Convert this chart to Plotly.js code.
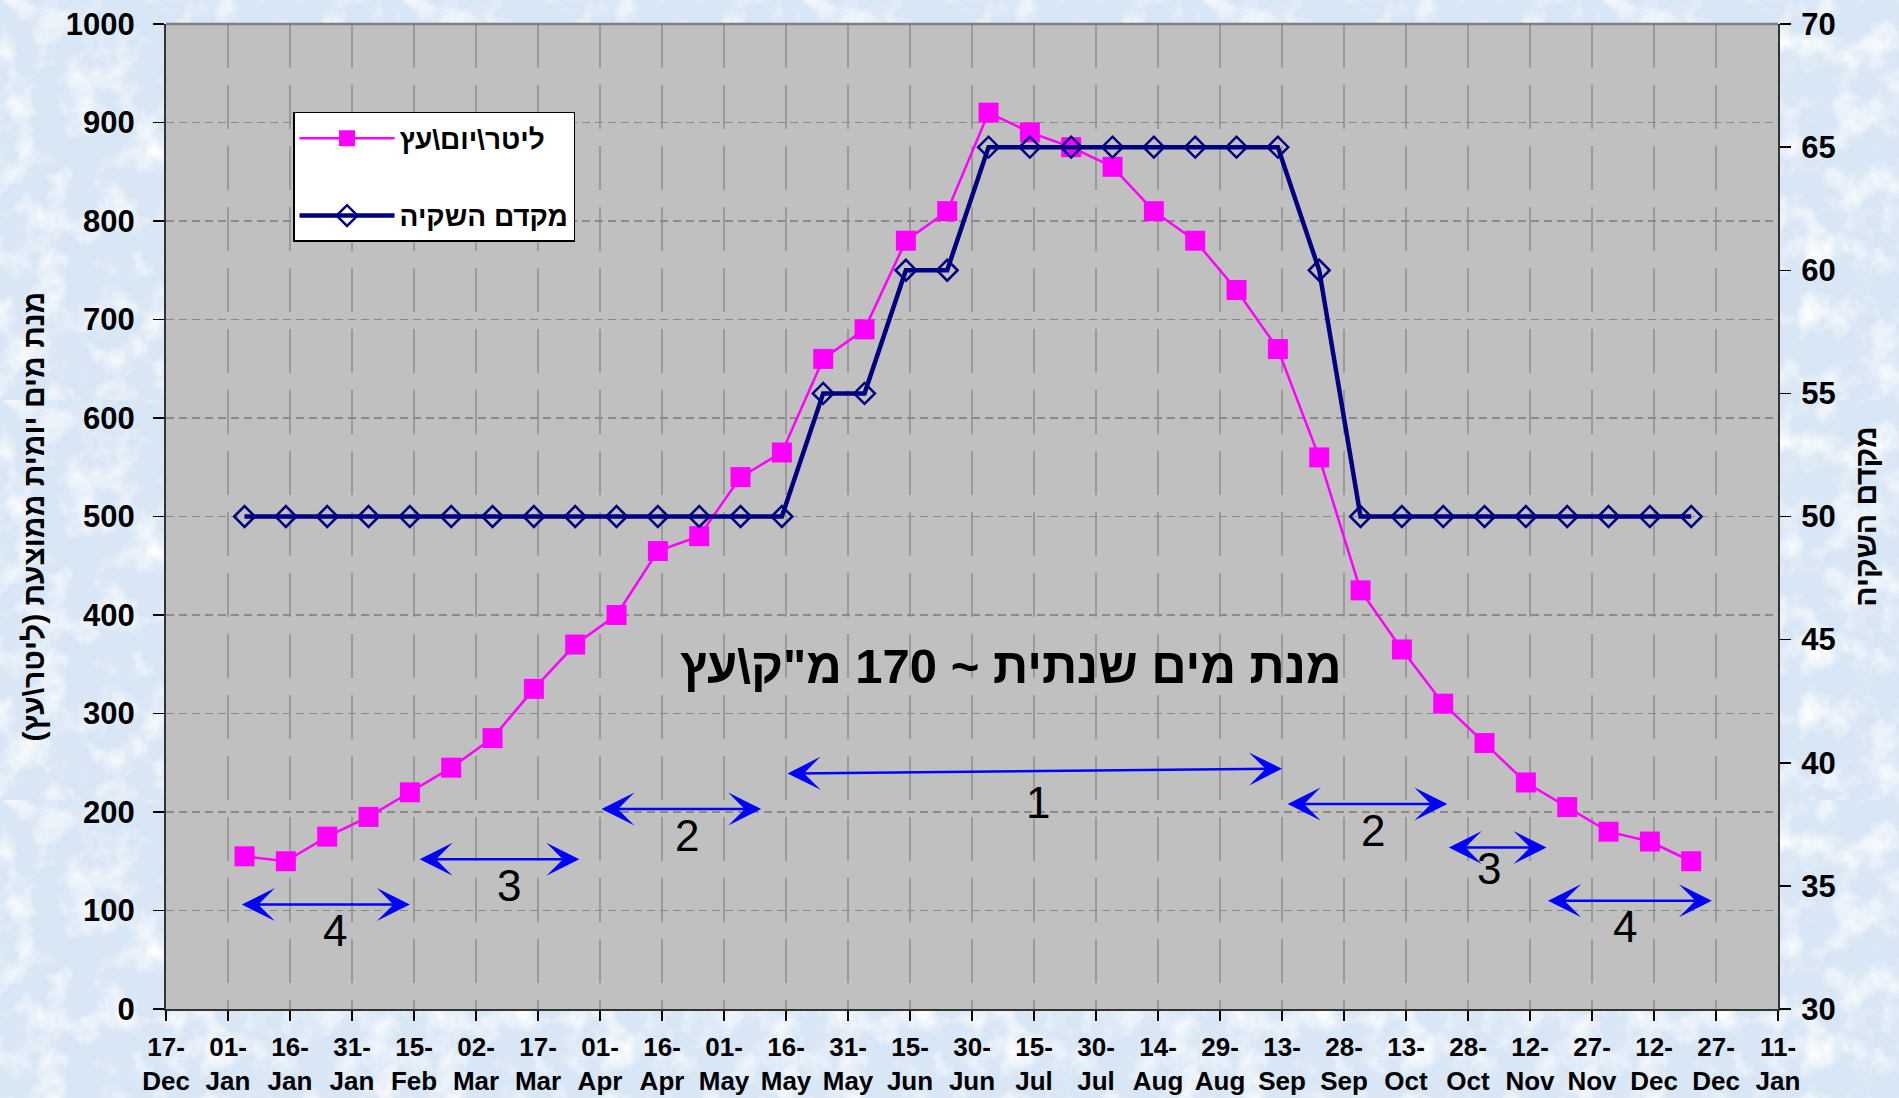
<!DOCTYPE html>
<html>
<head>
<meta charset="utf-8">
<script src="https://cdn.plot.ly/plotly-3.0.1.min.js"></script>
<style>
html, body { margin:0; padding:0; }
body {
  width:1899px; height:1098px; overflow:hidden;
  background-color:#d9e6f5;
  background-image:url("data:image/svg+xml;utf8,<svg xmlns='http://www.w3.org/2000/svg' width='400' height='400'><filter id='n'><feTurbulence type='fractalNoise' baseFrequency='0.03' numOctaves='4' seed='7'/><feColorMatrix values='0 0 0 0 1  0 0 0 0 1  0 0 0 0 1  0 0 0 2.2 -1.0'/></filter><rect width='400' height='400' filter='url(%23n)'/></svg>");
}
#chart { width:1899px; height:1098px; }
</style>
</head>
<body>
<div id="chart"></div>
<script>
// ---- data ----
const pointDates = ['2007-01-05','2007-01-15','2007-01-25','2007-02-04','2007-02-14','2007-02-24',
  '2007-03-06','2007-03-16','2007-03-26','2007-04-05','2007-04-15','2007-04-25',
  '2007-05-05','2007-05-15','2007-05-25','2007-06-04','2007-06-14','2007-06-24',
  '2007-07-04','2007-07-14','2007-07-24','2007-08-03','2007-08-13','2007-08-23',
  '2007-09-02','2007-09-12','2007-09-22','2007-10-02','2007-10-12','2007-10-22',
  '2007-11-01','2007-11-11','2007-11-21','2007-12-01','2007-12-11','2007-12-21'];
const litersPerTreeDay = [155,150,175,195,220,245,275,325,370,400,465,480,
  540,565,660,690,780,810,910,890,875,855,810,780,
  730,670,560,425,365,310,270,230,205,180,170,150];
const irrigationCoef = [50,50,50,50,50,50,50,50,50,50,50,50,
  50,50,55,55,60,60,65,65,65,65,65,65,
  65,65,60,50,50,50,50,50,50,50,50,50];
const seriesNames = ['ליטר\\יום\\עץ', 'מקדם השקיה'];

const tickDates = ['2006-12-17','2007-01-01','2007-01-16','2007-01-31','2007-02-15','2007-03-02',
  '2007-03-17','2007-04-01','2007-04-16','2007-05-01','2007-05-16','2007-05-31','2007-06-15',
  '2007-06-30','2007-07-15','2007-07-30','2007-08-14','2007-08-29','2007-09-13','2007-09-28',
  '2007-10-13','2007-10-28','2007-11-12','2007-11-27','2007-12-12','2007-12-27','2008-01-11'];
const tickLabels = ['17-<br>Dec','01-<br>Jan','16-<br>Jan','31-<br>Jan','15-<br>Feb','02-<br>Mar',
  '17-<br>Mar','01-<br>Apr','16-<br>Apr','01-<br>May','16-<br>May','31-<br>May','15-<br>Jun',
  '30-<br>Jun','15-<br>Jul','30-<br>Jul','14-<br>Aug','29-<br>Aug','13-<br>Sep','28-<br>Sep',
  '13-<br>Oct','28-<br>Oct','12-<br>Nov','27-<br>Nov','12-<br>Dec','27-<br>Dec','11-<br>Jan'];

// irrigation phases (double arrows)
const phaseStart = ['2007-01-04','2007-02-16','2007-04-01','2007-05-16','2007-09-14','2007-10-23','2007-11-16'];
const phaseEnd   = ['2007-02-14','2007-03-27','2007-05-10','2007-09-13','2007-10-23','2007-11-16','2007-12-26'];
const phaseLevelStart = [106,152,203,239,208,164,110];
const phaseLevelEnd   = [106,152,203,244,208,164,110];
const phaseLabel = ['4','3','2','1','2','3','4'];
const phaseLabelDate = ['2007-01-27','2007-03-10','2007-04-22','2007-07-16','2007-10-05','2007-11-02','2007-12-05'];
const phaseLabelLevel = [80,125,176,210,181,143,84];

const annualNote = 'מנת מים שנתית ~ 170 מ"ק\\עץ';
const yTitle = 'מנת מים יומית ממוצעת (ליטר\\עץ)';
const y2Title = 'מקדם השקיה';

// ---- chart ----
const FONT = 'Liberation Sans, Arial, DejaVu Sans, sans-serif';

const traces = [
  {
    x: pointDates, y: litersPerTreeDay, name: seriesNames[0], type: 'scatter',
    mode: 'lines+markers', yaxis: 'y', legendgroup: 'a',
    line: {color: '#ff00ff', width: 2.5},
    marker: {symbol: 'square', size: 20, color: '#ff00ff'}
  },
  {
    x: pointDates, y: irrigationCoef, name: seriesNames[1], type: 'scatter',
    mode: 'lines+markers', yaxis: 'y2', legendgroup: 'b',
    line: {color: '#000080', width: 4.5},
    marker: {symbol: 'diamond-open', size: 16, color: '#000080', line: {color: '#000080', width: 2.5}}
  }
];

const annotations = [];
for (let i = 0; i < phaseStart.length; i++) {
  annotations.push({
    xref: 'x', yref: 'y', axref: 'x', ayref: 'y',
    x: phaseEnd[i], y: phaseLevelEnd[i], ax: phaseStart[i], ay: phaseLevelStart[i],
    text: '', showarrow: true, arrowside: 'end+start',
    arrowhead: 3, startarrowhead: 3, arrowsize: 2.2, startarrowsize: 2.2,
    arrowwidth: 2.5, arrowcolor: '#0000ff', standoff: 0, startstandoff: 0
  });
  annotations.push({
    xref: 'x', yref: 'y', x: phaseLabelDate[i], y: phaseLabelLevel[i],
    text: phaseLabel[i], showarrow: false,
    font: {family: FONT, size: 44, color: '#000'}
  });
}
annotations.push({
  xref: 'paper', yref: 'paper', x: 0.524, y: 0.348, text: annualNote, showarrow: false,
  font: {family: FONT, size: 49, color: '#000', weight: 'bold'}
});

const layout = {
  width: 1899, height: 1098,
  margin: {l: 166, r: 121, t: 24, b: 89},
  paper_bgcolor: 'rgba(0,0,0,0)',
  plot_bgcolor: '#c0c0c0',
  font: {family: FONT, color: '#000'},
  showlegend: true,
  legend: {
    x: 0.0788, y: 0.9107, xanchor: 'left', yanchor: 'top',
    bgcolor: '#ffffff', bordercolor: '#000000', borderwidth: 1.5,
    font: {family: FONT, size: 28, color: '#000', weight: 'bold'},
    tracegroupgap: 38, itemwidth: 95
  },
  xaxis: {
    type: 'date', range: ['2006-12-17', '2008-01-11'],
    tickmode: 'array', tickvals: tickDates, ticktext: tickLabels,
    ticks: 'outside', ticklen: 10, tickwidth: 1.5, tickcolor: '#000',
    showline: true, linecolor: '#333', linewidth: 2,
    showgrid: true, gridcolor: '#9a9a9a', gridwidth: 1.3, griddash: '44px,17px',
    tickfont: {family: FONT, size: 26, color: '#000', weight: 'bold'},
    ticklabelstandoff: 4, zeroline: false
  },
  yaxis: {
    range: [0, 1000], dtick: 100, tick0: 0,
    ticks: 'outside', ticklen: 11, tickwidth: 1.5, tickcolor: '#000',
    showline: true, linecolor: '#333', linewidth: 2,
    showgrid: true, gridcolor: '#8a8a8a', gridwidth: 1.3, griddash: '8px,5px',
    zeroline: false,
    tickfont: {family: FONT, size: 31, color: '#000', weight: 'bold'},
    ticklabelstandoff: 12,
    title: {text: yTitle, font: {family: FONT, size: 30, color: '#000', weight: 'bold'}, standoff: 12}
  },
  yaxis2: {
    overlaying: 'y', side: 'right', range: [30, 70], dtick: 5, tick0: 30,
    ticks: 'outside', ticklen: 11, tickwidth: 1.5, tickcolor: '#000',
    showline: true, linecolor: '#333', linewidth: 2,
    showgrid: false, zeroline: false,
    tickfont: {family: FONT, size: 31, color: '#000', weight: 'bold'},
    ticklabelstandoff: 4,
    title: {text: y2Title, font: {family: FONT, size: 30, color: '#000', weight: 'bold'}, standoff: 20}
  },
  shapes: [
    {type: 'line', xref: 'paper', yref: 'paper', x0: 0, x1: 1, y0: 1, y1: 1,
     line: {color: '#808080', width: 2.5}}
  ],
  annotations: annotations
};

Plotly.newPlot('chart', traces, layout, {displayModeBar: false, staticPlot: true});
</script>
</body>
</html>
